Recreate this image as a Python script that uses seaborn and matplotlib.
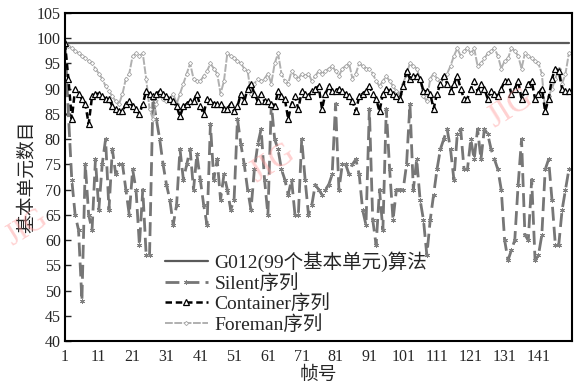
import numpy as np
import pandas as pd
import matplotlib
matplotlib.use("Agg")
import matplotlib.pyplot as plt
import seaborn as sns

frames = list(range(1, 151))
g012 = [99] * 150

silent = [99, 85, 72, 65, 62, 48, 75, 65, 62, 76, 66, 75, 80, 66, 78, 73, 75, 75, 70, 65,
          74, 70, 59, 70, 57, 57, 88, 84, 80, 75, 71, 68, 63, 67,
          78, 72, 75, 78, 70, 77, 72, 67, 63, 83, 72, 76, 68, 73, 70, 66,
          68, 84, 79, 75, 70, 66, 74, 79, 82, 72, 65, 87, 80, 78, 74, 72, 69, 72, 65,
          65, 80, 72, 65, 67, 71, 70, 69, 70, 71, 73, 87, 70, 75, 75, 73, 75, 76, 73, 66,
          63, 86, 64, 59, 70, 62, 86, 74, 64, 70,
          70, 70, 75, 87, 70, 76, 68, 64, 57, 64, 69, 74, 78, 80, 82, 78, 72, 81, 82, 74,
          74, 80, 76, 82, 76, 82, 81, 78, 76, 74, 70, 60, 56, 58, 60, 71, 80, 61, 60, 72,
          56, 57, 61, 74, 76, 68, 59, 59, 66, 70, 74]

container = [99, 92, 84, 90, 89, 88, 87, 83, 88.5, 89, 89, 88.5, 88, 88, 86.5, 86, 85.5, 85.5, 87, 87.5,
             86.5, 86, 85, 87, 89.5, 89, 88.5, 89, 89.5, 89, 88.5, 88, 87.5, 86.5, 84.5, 86.5, 87, 87.5, 87.5, 89,
             86.5, 85, 88, 87.5, 87, 87, 87, 86, 86, 87, 85.5, 86.5, 89, 87.5, 90, 91, 89, 87.5, 89, 87.5,
             87.5, 87, 86.5, 89.5, 88.5, 88, 84, 87, 88.5, 86, 89.5, 89, 88.5, 89.5, 90, 90.5, 86, 89, 90.5, 89.5,
             89.5, 90, 89.5, 89, 88.5, 87.5, 85.5, 88.5, 89, 89.5, 90.5, 89, 88, 85.5, 89, 90, 89.5, 89, 88.5, 88,
             90.5, 93.5, 92, 92.5, 92.5, 92, 89.5, 89.5, 89, 86, 89, 91, 92.5, 91, 89.5, 91, 92.5, 90, 88, 88,
             90, 91.5, 89.5, 91, 90, 88, 89.5, 89, 88.5, 90, 91.5, 91.5, 89, 90, 91.5, 88, 89.5, 91, 91.5, 88,
             89, 90, 85.5, 88, 92, 94, 93.5, 90, 89.5, 89.5]

foreman = [99, 98.5, 98, 97.5, 97, 96.5, 96, 95.5, 95, 94, 93, 92, 90.5, 89.5, 88.5, 87.5, 87, 89, 92, 93,
           96.5, 97, 96.5, 97, 92, 86, 84, 87, 89, 88, 87.5, 88, 89, 87, 89, 91, 93, 95, 92, 91.5,
           91.5, 92.5, 93.5, 95, 94, 93, 89, 91.5, 97, 96.5, 96, 95.5, 95, 94, 93.5, 89, 91, 92, 91.5, 92,
           93, 91, 95, 97, 93, 91.5, 91, 93.5, 92.5, 92, 93, 92.5, 93, 91.5, 92.5, 93.5, 93, 93.5, 94, 94.5,
           93.5, 92.5, 94, 94.5, 95, 92, 93, 95, 94.5, 94, 94, 93, 91.5, 90.5, 91.5, 92.5, 91.5, 90.5, 89.5, 89,
           91, 93, 95, 94.5, 94, 92, 88.5, 87.5, 92, 93, 92, 91.5, 92.5, 93, 94.5, 96.5, 98, 96.5, 97.5, 98,
           97, 98, 94.5, 95, 96, 97, 97.5, 98, 96.5, 94, 95.5, 96, 98, 97.5, 96.5, 94, 97, 96.5, 96, 95.5,
           95, 93, 85.5, 88.5, 90, 92, 94, 91, 93, 97]

labels = ["G012(99个基本单元)算法", "Silent序列", "Container序列", "Foreman序列"]
xticks = list(range(1, 142, 10))
yticks = list(range(40, 106, 5))

sns.set_theme(style="white")
fam = ["Liberation Serif", "Noto Sans CJK SC", "DejaVu Sans"]
plt.rcParams["font.family"] = fam

fig = plt.figure(figsize=(5.83, 3.86), dpi=100)
ax = fig.add_axes([0.1115, 0.1166, 0.8695, 0.8497])

sns.lineplot(x=frames, y=g012, ax=ax, color="#5a5a5a", lw=1.6, label=labels[0])
sns.lineplot(x=frames, y=silent, ax=ax, color="#767676", lw=2.0, linestyle=(0, (5, 2.2)),
             marker=(6, 2, 0), markersize=3.5, markeredgecolor="#808080", markeredgewidth=0.7,
             label=labels[1])
sns.lineplot(x=frames, y=foreman, ax=ax, color="#b0b0b0", lw=1.4, linestyle=(0, (4, 0.8)),
             marker="D", markersize=2.2, markerfacecolor="white", markeredgecolor="#a8a8a8",
             markeredgewidth=0.6, label=labels[3])
sns.lineplot(x=frames, y=container, ax=ax, color="black", lw=1.8, linestyle=(0, (2.6, 1.5)),
             marker="^", markersize=4, markerfacecolor="white", markeredgecolor="black",
             markeredgewidth=0.9, label=labels[2])

ax.set_xlim(1, 150.9)
ax.set_ylim(40, 105)
ax.set_xticks(xticks)
ax.set_xticklabels([str(t) for t in xticks])
ax.set_yticks(yticks)
ax.tick_params(axis="y", direction="in", length=4, width=1, left=True, labelsize=11.5, pad=3)
ax.tick_params(axis="x", length=0, labelsize=11.5, pad=6)
for s in ax.spines.values():
    s.set_color("black")
    s.set_linewidth(1.5)

ax.set_xlabel("帧号", fontsize=13.5, labelpad=1)
ax.set_ylabel("基本单元数目", fontsize=13.5, labelpad=1)

handles, labs = ax.get_legend_handles_labels()
order = [labs.index(l) for l in labels]
leg = ax.legend([handles[i] for i in order], [labs[i] for i in order],
                loc="lower left", bbox_to_anchor=(0.17, -0.02), frameon=False,
                fontsize=14, handlelength=2.2, labelspacing=0.1, handletextpad=0.35,
                borderpad=0.2)

# watermarks
for (x, y, s) in [(0.467, 0.578, 24), (0.875, 0.72, 24), (0.046, 0.409, 22)]:
    fig.text(x, y, "JIG", rotation=32, fontsize=s, color="#ff9a9a",
             alpha=0.45, ha="center", va="center", family="Liberation Serif", zorder=0)

fig.savefig("out.png", dpi=100)
